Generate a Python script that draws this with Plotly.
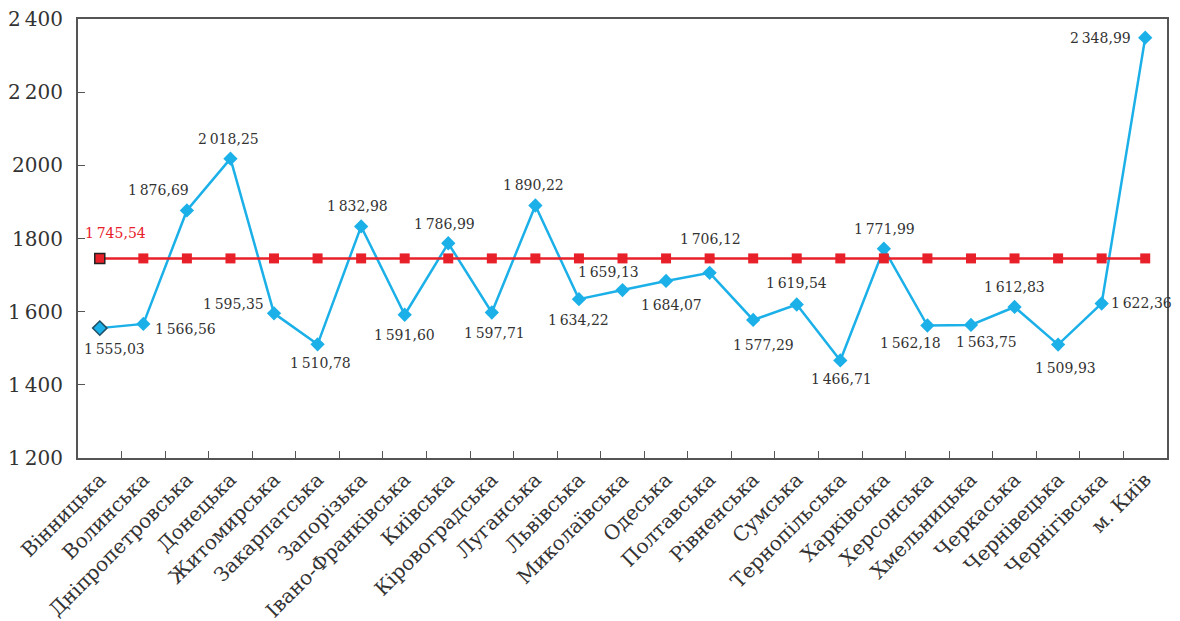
import plotly.graph_objects as go

regions = ["Вінницька", "Волинська", "Дніпропетровська", "Донецька", "Житомирська",
           "Закарпатська", "Запорізька", "Івано-Франківська", "Київська", "Кіровоградська",
           "Луганська", "Львівська", "Миколаївська", "Одеська", "Полтавська", "Рівненська",
           "Сумська", "Тернопільська", "Харківська", "Херсонська", "Хмельницька",
           "Черкаська", "Чернівецька", "Чернігівська", "м. Київ"]
values = [1555.03, 1566.56, 1876.69, 2018.25, 1595.35, 1510.78, 1832.98, 1591.60,
          1786.99, 1597.71, 1890.22, 1634.22, 1659.13, 1684.07, 1706.12, 1577.29,
          1619.54, 1466.71, 1771.99, 1562.18, 1563.75, 1612.83, 1509.93, 1622.36, 2348.99]
average = 1745.54
ytick_vals = [1200, 1400, 1600, 1800, 2000, 2200, 2400]
ytick_text = ["1\u2009200", "1\u2009400", "1\u2009600", "1800", "2000", "2\u2009200", "2\u2009400"]

# label pixel offsets (dx right, dy down) relative to each marker
label_dx = [15, 42, -28, -2, -41, 3, -4, 0, -4, 3, -2, 0, -14, 5, 1, 10, 0, 1, 1, -17, 16, 0, 7, 40, -45]
label_dy = [21, 5, -20, -20, -9, 19, -20, 20, -19, 20, -20, 21, -18, 24, -34, 25, -22, 19, -20, 17, 17, -20, 23, 0, 0]

BLUE = "#1cb0e8"
RED = "#e8202a"
TXT = "#333333"
AX = "#555555"
FONT = "DejaVu Serif"


def fmt(v):
    s = f"{v:,.2f}"
    return s.replace(",", "\u2009").replace(".", ",")


fig = go.Figure()
fig.add_trace(go.Scatter(
    x=regions, y=values, mode="lines+markers",
    line=dict(color=BLUE, width=2.5),
    marker=dict(symbol="diamond", size=11, color=BLUE,
                line=dict(color=["#1d4f66"] + [BLUE] * (len(values) - 1),
                          width=[1.5] + [0] * (len(values) - 1))),
    showlegend=False, hoverinfo="skip"))
fig.add_trace(go.Scatter(
    x=regions, y=[average] * len(regions), mode="lines+markers",
    line=dict(color=RED, width=2.5),
    marker=dict(symbol="square", size=10, color=RED,
                line=dict(color=["#222222"] + [RED] * (len(regions) - 1),
                          width=[1.5] + [0] * (len(regions) - 1))),
    showlegend=False, hoverinfo="skip"))

annotations = []
for r, v, dx, dy in zip(regions, values, label_dx, label_dy):
    annotations.append(dict(x=r, y=v, xref="x", yref="y", text=fmt(v), showarrow=False,
                            xshift=dx, yshift=-dy, font=dict(family=FONT, size=14, color=TXT)))
annotations.append(dict(x=regions[0], y=average, xref="x", yref="y", text=fmt(average),
                        showarrow=False, xshift=16, yshift=25,
                        font=dict(family=FONT, size=14, color=RED)))

fig.update_layout(
    width=1180, height=621,
    margin=dict(l=78, r=13, t=19, b=163),
    paper_bgcolor="white", plot_bgcolor="white",
    annotations=annotations,
    xaxis=dict(type="category", range=[-0.5, len(regions) - 0.5], tickangle=-45,
               ticks="inside", tickson="boundaries", ticklen=7, tickwidth=1.2, tickcolor=AX,
               showline=True, linecolor=AX, linewidth=2, mirror=True, showgrid=False,
               tickfont=dict(family=FONT, size=20, color=TXT), automargin=False),
    yaxis=dict(range=[1200, 2400], tickvals=ytick_vals, ticktext=ytick_text,
               ticks="inside", ticklen=7, tickwidth=1.2, tickcolor=AX,
               showline=True, linecolor=AX, linewidth=2, mirror=True, showgrid=False,
               ticklabelstandoff=9,
               zeroline=False, tickfont=dict(family=FONT, size=20, color=TXT), automargin=False),
)

fig.write_html("out.html")
